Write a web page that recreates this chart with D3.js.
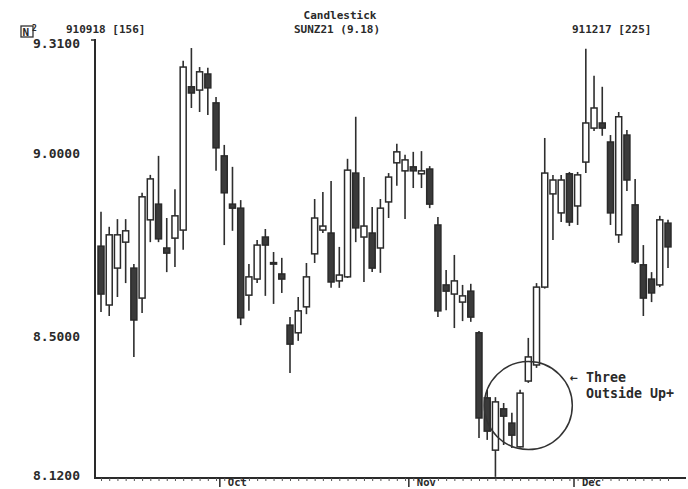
<!DOCTYPE html>
<html>
<head>
<meta charset="utf-8">
<script src="https://cdn.jsdelivr.net/npm/d3@7"></script>
<style>
  html, body { margin: 0; padding: 0; background: #fff; }
  svg { display: block; }
  text { font-family: "DejaVu Sans Mono", "Liberation Mono", monospace; font-weight: bold; fill: #2a2a2a; }
</style>
</head>
<body>
<svg id="chart" width="688" height="489"></svg>
<script>
// ---- data (bar numbers 156..225, SUNZ21 daily) ----
const bars = [156,157,158,159,160,161,162,163,164,165,166,167,168,169,170,171,172,173,174,175,
  176,177,178,179,180,181,182,183,184,185,186,187,188,189,190,191,192,193,194,195,
  196,197,198,199,200,201,202,203,204,205,206,207,208,209,210,211,212,213,214,215,
  216,217,218,219,220,221,222,223,224,225];
const open = [8.746,8.585,8.686,8.757,8.686,8.604,8.818,8.861,8.741,8.768,
  8.790,9.182,9.173,9.217,9.138,8.993,8.861,8.850,8.612,8.656,
  8.771,8.701,8.670,8.530,8.509,8.580,8.725,8.790,8.782,8.651,
  8.662,8.946,8.771,8.782,8.741,8.867,8.974,8.952,8.963,8.944,
  8.957,8.804,8.640,8.615,8.593,8.623,8.509,8.331,8.188,8.301,
  8.262,8.197,8.377,8.421,8.634,8.889,8.837,8.944,8.856,8.976,
  9.069,9.083,9.031,8.777,9.050,8.859,8.695,8.656,8.640,8.809];
const high = [8.840,8.799,8.820,8.820,8.697,8.892,8.941,8.993,8.823,8.902,
  9.253,9.288,9.236,9.234,9.154,9.023,8.963,8.872,8.697,8.763,
  8.793,8.730,8.714,8.552,8.607,8.700,8.875,8.894,8.924,8.744,
  8.985,9.100,8.935,8.853,8.875,8.946,9.026,8.996,9.004,9.006,
  8.965,8.826,8.681,8.722,8.640,8.643,8.514,8.353,8.333,8.317,
  8.290,8.353,8.495,8.645,9.042,8.941,8.941,8.949,8.949,9.286,
  9.212,9.182,9.050,9.113,9.064,8.930,8.749,8.675,8.829,8.818];
const low = [8.566,8.555,8.607,8.645,8.443,8.563,8.757,8.757,8.675,8.689,
  8.736,9.124,9.113,9.105,8.952,8.749,8.788,8.530,8.569,8.645,
  8.610,8.588,8.618,8.399,8.487,8.560,8.700,8.782,8.632,8.632,
  8.659,8.757,8.648,8.675,8.673,8.823,8.911,8.820,8.905,8.905,
  8.850,8.552,8.571,8.522,8.541,8.539,8.221,8.216,8.115,8.202,
  8.194,8.195,8.372,8.413,8.630,8.763,8.812,8.801,8.804,8.946,
  9.061,9.048,8.804,8.755,8.897,8.697,8.555,8.593,8.634,8.686];
const close = [8.615,8.777,8.777,8.788,8.544,8.881,8.930,8.766,8.727,8.829,
  9.236,9.165,9.223,9.179,9.015,8.892,8.850,8.550,8.662,8.749,
  8.749,8.699,8.656,8.478,8.569,8.662,8.823,8.801,8.648,8.667,
  8.954,8.796,8.801,8.686,8.850,8.935,9.004,8.982,8.952,8.952,
  8.861,8.569,8.623,8.651,8.610,8.552,8.276,8.240,8.320,8.281,
  8.229,8.344,8.443,8.634,8.946,8.927,8.927,8.812,8.941,9.083,
  9.124,9.069,8.837,9.100,8.927,8.703,8.604,8.618,8.818,8.744];
const yTickValues = [9.31, 9.00, 8.50, 8.12];
const yTickLabels = ["9.3100", "9.0000", "8.5000", "8.1200"];
const monthTickBars = [170.4, 193.4, 213.5];
const monthLabels = ["Oct", "Nov", "Dec"];
const headerLeft = "910918 [156]";
const headerRight = "911217 [225]";
const titleLines = ["Candlestick", "SUNZ21 (9.18)"];
const annotationLines = ["\u2190 Three", "Outside Up+"];
const patternCenterBar = 208;   // centre of the "three outside up" ring
const patternCenterPrice = 8.310;

// ---- drawing ----
const svg = d3.select("#chart");
const x = d3.scaleLinear().domain([156, 225]).range([101, 668]);
const y = d3.scaleLinear().domain([8.12, 9.31]).range([475, 40]);
const axisColor = "#2a2a2a";
const bodyW = 6;

const data = bars.map((b, i) => ({ b, o: open[i], h: high[i], l: low[i], c: close[i] }));

// axes lines
svg.append("line").attr("x1", 95).attr("x2", 95).attr("y1", 39).attr("y2", 479)
  .attr("stroke", axisColor).attr("stroke-width", 2);
svg.append("line").attr("x1", 91).attr("x2", 96).attr("y1", 40).attr("y2", 40)
  .attr("stroke", axisColor).attr("stroke-width", 1.5);
svg.append("line").attr("x1", 94).attr("x2", 686).attr("y1", 478).attr("y2", 478)
  .attr("stroke", axisColor).attr("stroke-width", 2);

// x-axis via d3 axis: minor ticks per bar
const xAxisMinor = d3.axisBottom(x).tickValues(bars).tickSize(3).tickFormat("");
const gMinor = svg.append("g").attr("transform", "translate(0,478)").call(xAxisMinor);
gMinor.select(".domain").remove();
gMinor.selectAll("line").attr("stroke", "#555").attr("stroke-width", 1);

const xAxisMonth = d3.axisBottom(x).tickValues(monthTickBars).tickSize(9)
  .tickFormat((d, i) => monthLabels[i]);
const gMonth = svg.append("g").attr("transform", "translate(0,478)").call(xAxisMonth);
gMonth.select(".domain").remove();
gMonth.selectAll("line").attr("stroke", axisColor).attr("stroke-width", 1.5);
gMonth.selectAll("text").attr("text-anchor", "start").attr("x", 8).attr("y", 7.5)
  .attr("dy", null).style("font-size", "10.5px")
  .style("font-family", "'DejaVu Sans Mono', monospace").style("font-weight", "bold")
  .attr("fill", "#2a2a2a");

// y-axis labels
const yAxis = d3.axisLeft(y).tickValues(yTickValues).tickSize(0)
  .tickFormat((d, i) => yTickLabels[i]).tickPadding(15);
const gy = svg.append("g").attr("transform", "translate(95,0)").call(yAxis);
gy.select(".domain").remove();
gy.selectAll("text").style("font-size", "13px")
  .style("font-family", "'DejaVu Sans Mono', monospace").style("font-weight", "bold")
  .attr("fill", "#2a2a2a");
gy.selectAll(".tick").filter(d => d === 9.31).select("text").attr("dy", "0.55em");

// candles
const g = svg.append("g");
g.selectAll("line.wick").data(data).join("line").attr("class", "wick")
  .attr("x1", d => x(d.b)).attr("x2", d => x(d.b))
  .attr("y1", d => y(d.h)).attr("y2", d => y(d.l))
  .attr("stroke", "#2e2e2e").attr("stroke-width", 1.6);
g.selectAll("rect.body").data(data).join("rect").attr("class", "body")
  .attr("x", d => x(d.b) - bodyW / 2)
  .attr("y", d => y(Math.max(d.o, d.c)))
  .attr("width", bodyW)
  .attr("height", d => Math.max(1.5, Math.abs(y(d.o) - y(d.c))))
  .attr("fill", d => d.c >= d.o ? "#ffffff" : "#3a3a3a")
  .attr("stroke", "#2a2a2a").attr("stroke-width", 1.5);

// annotation circle
svg.append("circle").attr("cx", x(patternCenterBar)).attr("cy", y(patternCenterPrice)).attr("r", 44)
  .attr("fill", "none").attr("stroke", "#333").attr("stroke-width", 1.5);
svg.append("text").attr("x", 570).attr("y", 382).style("font-size", "13.3px").text(annotationLines[0]);
svg.append("text").attr("x", 586).attr("y", 398).style("font-size", "13.3px").text(annotationLines[1]);

// header
svg.append("text").attr("x", 340).attr("y", 19).attr("text-anchor", "middle")
  .style("font-size", "11px").text(titleLines[0]);
svg.append("text").attr("x", 337).attr("y", 33).attr("text-anchor", "middle")
  .style("font-size", "11px").text(titleLines[1]);
svg.append("text").attr("x", 66).attr("y", 33).style("font-size", "11px").text(headerLeft);
svg.append("text").attr("x", 572).attr("y", 33).style("font-size", "11px").text(headerRight);

// N2 icon
svg.append("rect").attr("x", 21).attr("y", 26).attr("width", 12).attr("height", 11)
  .attr("fill", "none").attr("stroke", "#333").attr("stroke-width", 1.3);
svg.append("text").attr("x", 22.5).attr("y", 36).style("font-size", "11px").text("N");
svg.append("text").attr("x", 32).attr("y", 31).style("font-size", "8px").text("2");
</script>
</body>
</html>
